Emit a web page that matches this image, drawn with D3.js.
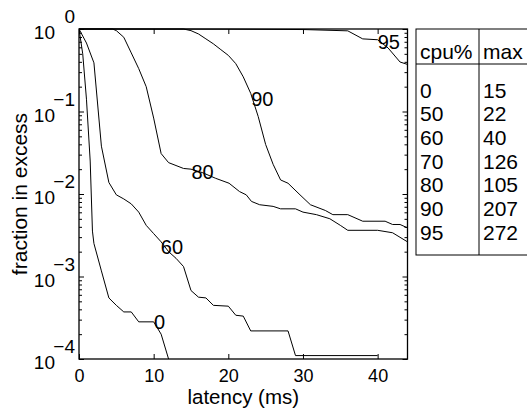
<!DOCTYPE html>
<html><head><meta charset="utf-8">
<script src="https://cdn.jsdelivr.net/npm/d3@7/dist/d3.min.js"></script>
<style>body{margin:0;background:#fff}svg{display:block}text{font-family:"Liberation Sans",Arial,Helvetica,sans-serif;fill:#000}</style>
</head><body>
<script>
// ---- data ----
const xTicks = [0, 10, 20, 30, 40];
const yExponents = [0, -1, -2, -3, -4];
const curve0 = [[0,1],[0.5,0.5],[1,0.141],[1.5,0.0251],[1.8,0.00355],[2,0.00251],[3,0.00117],[4,0.00055],[5,0.000447],[6,0.000372],[7,0.000372],[8,0.000282],[10,0.000282],[11,0.0002],[12,0.0001]];
const curve60 = [[0,1],[1,0.676],[2,0.389],[3,0.038],[4,0.0138],[5,0.00977],[6,0.00871],[7,0.00759],[8,0.00603],[9,0.00417],[10,0.00331],[11,0.00263],[12,0.002],[13,0.00166],[14,0.00132],[15,0.000676],[16,0.000562],[17,0.00055],[18,0.000447],[20,0.000437],[21,0.000339],[22,0.000331],[23,0.000219],[28,0.000219],[29,0.00011],[40,0.00011]];
const curve80 = [[0,1],[4.5,1],[5,0.955],[6,0.794],[7,0.513],[8,0.331],[9,0.2],[10,0.0832],[11,0.0309],[12,0.024],[14,0.0204],[15,0.02],[16.5,0.0182],[18.3,0.0155],[20.1,0.0135],[21.5,0.0107],[22.4,0.00977],[23.1,0.00813],[24.2,0.00741],[26,0.00708],[27,0.00661],[29,0.00661],[30,0.00603],[31.8,0.00562],[33.6,0.00501],[35,0.00417],[36,0.00363],[40,0.00363],[42,0.00339],[44,0.00263]];
const curve90 = [[0,1],[14,1],[15,0.955],[16,0.871],[17,0.759],[18,0.661],[19,0.562],[20,0.479],[21,0.38],[22,0.263],[23,0.166],[24,0.0871],[25,0.0398],[26,0.0229],[27,0.0148],[28,0.0135],[29.6,0.00977],[31,0.00741],[33,0.00631],[34,0.00562],[36,0.00562],[38,0.00468],[41,0.00468],[42,0.00427],[43,0.00427],[44,0.00389]];
const curve95 = [[0,1],[20,0.995],[30,0.985],[36,0.95],[38,0.759],[40,0.741],[41.4,0.589],[43,0.398],[44,0.372]];
const curveNames = ["0","60","80","90","95"];
const labelAnchors = [[10.8,0.000282],[12.45,0.00229],[16.56,0.0186],[24.56,0.144],[41.5,0.708]];
const cpuPct = [0, 50, 60, 70, 80, 90, 95];
const maxLatency = [15, 22, 40, 126, 105, 207, 272];

// ---- layout ----
const W = 527, H = 409;
const L = 79, R = 407.5, T = 29, B = 359;
const svg = d3.select("body").append("svg").attr("width", W).attr("height", H);
svg.append("rect").attr("width", W).attr("height", H).attr("fill", "#fff");

const x = d3.scaleLinear().domain([0, 44]).range([L, R]);
const y = d3.scaleLog().domain([1e-4, 1]).range([B, T]);

svg.append("clipPath").attr("id", "clip").append("rect")
  .attr("x", L).attr("y", T - 1).attr("width", R - L).attr("height", B - T + 1);

const line = d3.line().x(d => x(d[0])).y(d => y(d[1]));
const curves = [curve0, curve60, curve80, curve90, curve95];
svg.append("g").attr("clip-path", "url(#clip)")
  .selectAll("path").data(curves).join("path")
  .attr("d", line).attr("fill", "none").attr("stroke", "#000").attr("stroke-width", 1);

// axes
const majors = yExponents.map(e => Math.pow(10, e));
const minors = [];
for (let e = -4; e < 0; e++) for (let m = 2; m <= 9; m++) minors.push(m * Math.pow(10, e));

function styleAxis(g) { g.select(".domain").remove(); g.selectAll("line").attr("stroke", "#000").attr("stroke-width", 1); }

svg.append("g").attr("transform", `translate(0,${B})`)
  .call(d3.axisBottom(x).tickValues(xTicks).tickSize(-5).tickPadding(10).tickFormat(d3.format("d")))
  .call(styleAxis)
  .selectAll("text").attr("font-size", 18).attr("font-family", "Liberation Sans, Arial, sans-serif").attr("fill", "#000");
svg.append("g").attr("transform", `translate(0,${T})`)
  .call(d3.axisTop(x).tickValues(xTicks).tickSize(-5).tickFormat(""))
  .call(styleAxis);
svg.append("g").attr("transform", `translate(${L},0)`)
  .call(d3.axisLeft(y).tickValues(majors).tickSize(-5).tickFormat("")).call(styleAxis);
svg.append("g").attr("transform", `translate(${L},0)`)
  .call(d3.axisLeft(y).tickValues(minors).tickSize(-3).tickFormat("")).call(styleAxis);
svg.append("g").attr("transform", `translate(${R},0)`)
  .call(d3.axisRight(y).tickValues(majors).tickSize(-5).tickFormat("")).call(styleAxis);
svg.append("g").attr("transform", `translate(${R},0)`)
  .call(d3.axisRight(y).tickValues(minors).tickSize(-3).tickFormat("")).call(styleAxis);

// box
svg.append("rect").attr("x", L).attr("y", T).attr("width", R - L).attr("height", B - T)
  .attr("fill", "none").attr("stroke", "#000").attr("stroke-width", 1.3);

// y tick labels: 10 with exponent
const yl = svg.append("g").attr("font-size", 19);
yExponents.forEach(e => {
  const ty = y(Math.pow(10, e));
  yl.append("text").attr("x", 55).attr("y", ty + 10).attr("text-anchor", "end").text("10");
  yl.append("text").attr("x", 75).attr("y", ty - 6).attr("text-anchor", "end").text(e === 0 ? "0" : "\u2212" + Math.abs(e));
});

// axis titles
svg.append("text").attr("x", (L + R) / 2).attr("y", 403.5).attr("text-anchor", "middle")
  .attr("font-size", 20.5).text("latency (ms)");
svg.append("text").attr("transform", `translate(27,${(T + B) / 2}) rotate(-90)`).attr("text-anchor", "middle")
  .attr("font-size", 21).text("fraction in excess");

// curve labels
svg.append("g").selectAll("text").data(labelAnchors).join("text")
  .attr("x", d => x(d[0])).attr("y", d => y(d[1]))
  .attr("dy", "0.36em").attr("text-anchor", "middle").attr("font-size", 20)
  .text((d, i) => curveNames[i]);

// table
const tL = 416, tT = 29, tB = 255, tDiv = 479, tHead = 64;
const tg = svg.append("g");
tg.append("rect").attr("x", tL).attr("y", tT).attr("width", W - tL + 5).attr("height", tB - tT)
  .attr("fill", "#fff").attr("stroke", "#000").attr("stroke-width", 1);
tg.append("line").attr("x1", tDiv).attr("x2", tDiv).attr("y1", tT).attr("y2", tB).attr("stroke", "#000");
tg.append("line").attr("x1", tL).attr("x2", W).attr("y1", tHead).attr("y2", tHead).attr("stroke", "#000");
tg.append("text").attr("x", tL + 4).attr("y", 59).attr("font-size", 21).text("cpu%");
tg.append("text").attr("x", tDiv + 4).attr("y", 59).attr("font-size", 21).text("max");
const rowY = d3.scalePoint().domain(d3.range(cpuPct.length)).range([97.5, 239.5]);
cpuPct.forEach((c, i) => {
  tg.append("text").attr("x", tL + 4).attr("y", rowY(i)).attr("font-size", 21).text(c);
  tg.append("text").attr("x", tDiv + 4).attr("y", rowY(i)).attr("font-size", 21).text(maxLatency[i]);
});
</script>
</body></html>
